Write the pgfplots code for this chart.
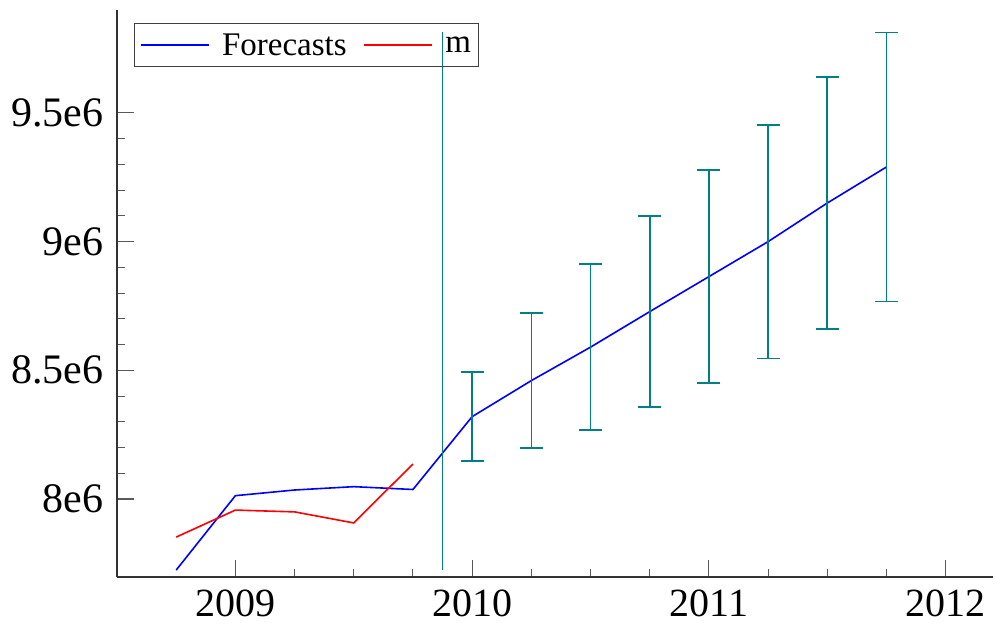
\documentclass[border=0pt]{standalone}
\usepackage{fontspec}
\setmainfont{Liberation Serif}
\newfontfamily\timesfont{Liberation Serif}
\usepackage{pgfplots}
\pgfplotsset{compat=1.18}
\definecolor{ebteal}{RGB}{0,128,128}
\begin{document}
\begin{tikzpicture}[x=1pt,y=1pt]
\begin{axis}[
  at={(0,0)}, anchor=south west,
  scale only axis, width=876pt, height=567pt,
  xmin=2008.5, xmax=2012.2,
  ymin=7.697e6, ymax=9.9e6,
  axis x line*=bottom, axis y line*=left,
  axis line style={draw=black!80, line width=1.3pt},
  tick align=inside,
  xtick pos=bottom, ytick pos=left,
  xtick={2009,2010,2011,2012},
  xticklabels={2009,2010,2011,2012},
  ytick={8e6,8.5e6,9e6,9.5e6},
  yticklabels={8e6,8.5e6,9e6,9.5e6},
  scaled y ticks=false, scaled x ticks=false,
  minor x tick num=3, minor y tick num=4,
  major tick length=17pt, minor tick length=8pt,
  every tick/.style={draw=black!65, line width=1.1pt},
  tick label style={font=\timesfont\fontsize{42}{42}\selectfont},
  xticklabel style={inner sep=0pt, yshift=-13pt, font=\timesfont\fontsize{40}{40}\selectfont},
  yticklabel style={xshift=-10pt},
  legend style={at={(axis description cs:0.0194,0.977)}, anchor=north west,
    draw=black!75, fill=none, line width=0.9pt, inner xsep=6pt, inner ysep=8pt,
    font=\timesfont\fontsize{33}{36}\selectfont, legend columns=2,
    /tikz/every odd column/.append style={column sep=10pt},
    /tikz/every even column/.append style={column sep=15pt}},
  legend image code/.code={\draw[#1] (0pt,0pt) -- (68pt,0pt);},
]
\addplot[blue, line width=1.6pt] coordinates {
 (2008.75,7.724e6) (2009.0,8.013e6) (2009.25,8.035e6) (2009.5,8.048e6)
 (2009.75,8.037e6) (2010.0,8.32e6) (2010.25,8.46e6) (2010.5,8.59e6)
 (2010.75,8.728e6) (2011.0,8.864e6) (2011.25,9.0e6) (2011.5,9.15e6)
 (2011.75,9.29e6)};
\addlegendentry{Forecasts}
\addplot[red, line width=1.6pt] coordinates {
 (2008.75,7.852e6) (2009.0,7.957e6) (2009.25,7.95e6) (2009.5,7.907e6)
 (2009.75,8.136e6)};
\addlegendentry{m}
\addplot[forget plot, draw=none, mark=none,
  error bars/.cd, y dir=both, y explicit,
  error mark options={rotate=90, mark size=11.5pt, ebteal, line width=1.6pt},
  error bar style={ebteal, line width=1.6pt}] coordinates {
 (2010.0,8.32e6) +- (0,0.1725e6)
 (2010.25,8.46e6) +- (0,0.2625e6)
 (2010.5,8.59e6) +- (0,0.3225e6)
 (2010.75,8.728e6) +- (0,0.371e6)
 (2011.0,8.864e6) +- (0,0.414e6)
 (2011.25,9.0e6) +- (0,0.4535e6)
 (2011.5,9.15e6) +- (0,0.49e6)
 (2011.75,9.29e6) +- (0,0.5225e6)};
\addplot[forget plot, ebteal, line width=1.6pt] coordinates {
 (2009.875,7.724e6) (2009.875,9.814e6)};
\end{axis}
\path[use as bounding box] (-117,-52) rectangle (878,577);
\end{tikzpicture}
\end{document}
